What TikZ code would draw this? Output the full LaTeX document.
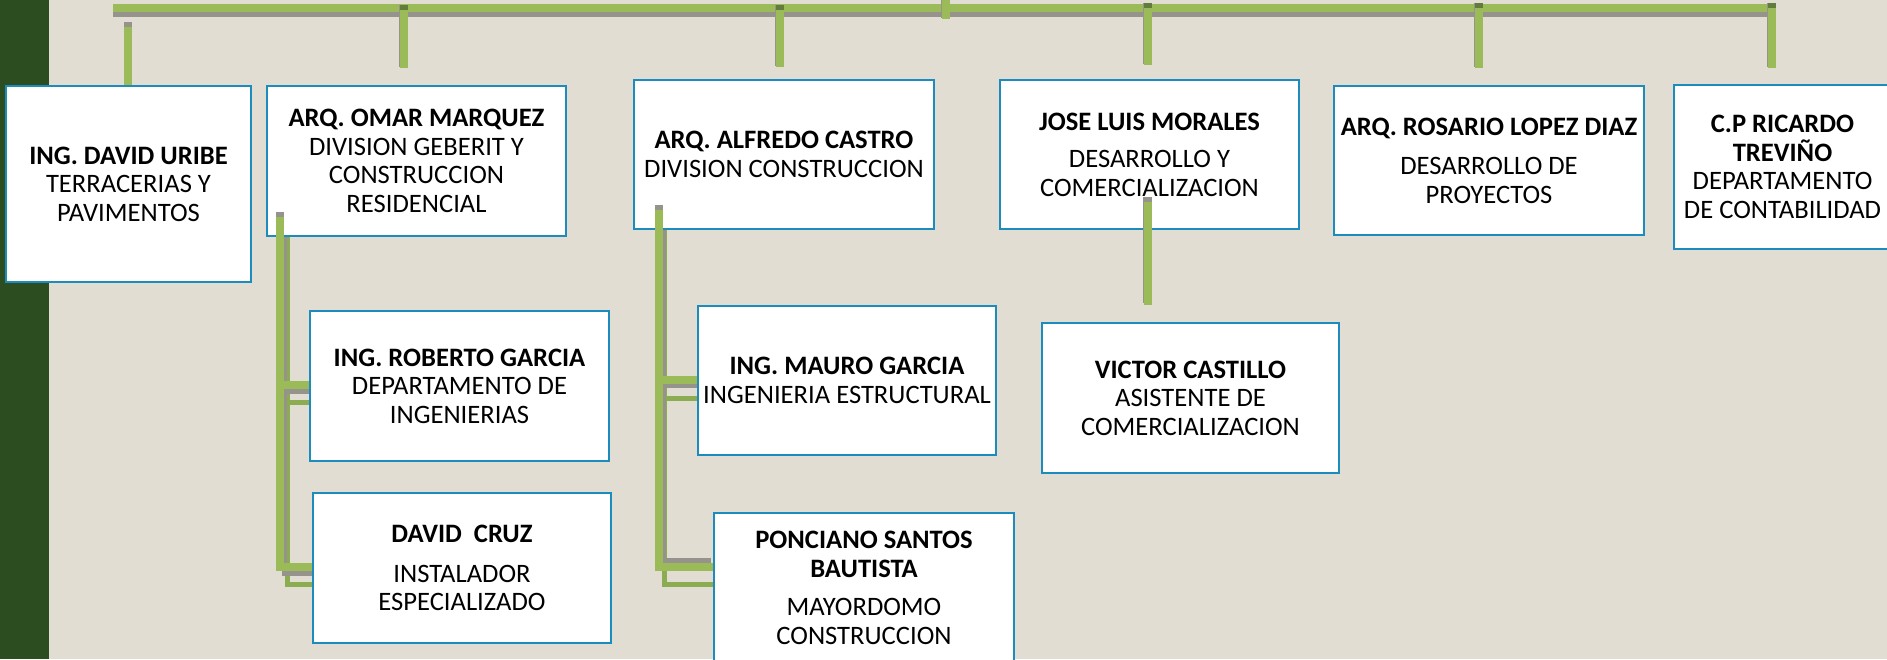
\documentclass[tikz,border=0pt]{standalone}
\usepackage{fontspec}
\setmainfont{Carlito}
\definecolor{bgbeige}{RGB}{226,221,210}
\definecolor{stripgreen}{RGB}{44,77,31}
\definecolor{linegreen}{RGB}{155,187,89}
\definecolor{ghostgreen}{RGB}{140,172,82}
\definecolor{shadowgray}{RGB}{150,146,140}
\definecolor{capdark}{RGB}{98,124,62}
\definecolor{boxblue}{RGB}{28,140,190}
\tikzset{
  box/.style={draw=boxblue, line width=2pt, fill=white, anchor=north west,
    align=center, inner sep=2pt, font=\fontsize{26.6}{28.5}\selectfont},
  bar/.style={draw=linegreen, line width=8pt},
  barshadow/.style={draw=shadowgray, line width=5pt},
  ghost/.style={draw=ghostgreen, line width=5pt},
}

\begin{document}
\begin{tikzpicture}[x=1pt,y=-1pt]
    \fill[bgbeige] (0,0) rectangle (1887,659);
    \useasboundingbox (0,0) rectangle (1887,659);
    \fill[stripgreen] (0,0) rectangle (49,659);
    % top line
    \coordinate (busW) at (113,8);
    \coordinate (busE) at (1772,8);
    \draw[barshadow] (113,14.5) -- (1772,14.5);
    \path[bar] (busW) edge (busE);
    \foreach \x/\ya/\yb in {404/5/68, 780/5/67, 1148/3/65, 1479/3/68, 1772/3/68} {
      \draw[shadowgray, line width=8pt] (\x-1.5,\ya) -- (\x-1.5,\yb-1);
      \draw[bar] (\x,\ya+5) -- (\x,\yb);
      \draw[capdark, line width=8pt] (\x,\ya) -- (\x,\ya+5);
    }
    \draw[shadowgray, line width=8pt] (944.5,0) -- (944.5,18);
    \draw[bar] (946,0) -- (946,19);
    \draw[shadowgray, line width=8pt] (128,22) -- (128,27);
    \draw[bar] (128,27) -- (128,85);
    % branches below
    \coordinate (omar-trunk) at (280,217);
    \coordinate (alf-trunk) at (659,210);
    \coordinate (jose-drop) at (1148,202);
    \coordinate (victor-in) at (1148,305);
    \coordinate (roberto-in) at (309,385);
    \coordinate (cruz-in) at (312,567);
    \coordinate (mauro-in) at (697,380);
    \coordinate (ponciano-in) at (713,566.5);
    \draw[ghost, transform canvas={shift={(7pt,-17pt)}}]
      (omar-trunk) |- (roberto-in) (omar-trunk) |- (cruz-in);
    \draw[ghost, transform canvas={shift={(5.5pt,-18pt)}}]
      (alf-trunk) |- (mauro-in) (alf-trunk) |- (ponciano-in);
    \draw[barshadow, transform canvas={shift={(4pt,-6.5pt)}}]
      (omar-trunk) |- (roberto-in) (omar-trunk) |- (cruz-in);
    \draw[barshadow, transform canvas={shift={(4pt,-5.5pt)}}]
      (alf-trunk) |- (mauro-in);
    \draw[barshadow] (659,560.5) -- (711,560.5);
    \draw[barshadow] (663,560) -- (663,380);
    \node[box, minimum width=245, minimum height=196] (uribe) at (5,85)
      {\textbf{ING. DAVID URIBE}\\TERRACERIAS Y\\PAVIMENTOS};
    \node[box, minimum width=299, minimum height=150] (omar) at (266,85)
      {\textbf{ARQ. OMAR MARQUEZ}\\DIVISION GEBERIT Y\\CONSTRUCCION\\RESIDENCIAL};
    \node[box, minimum width=300, minimum height=149] (alfredo) at (633,79)
      {\textbf{ARQ. ALFREDO CASTRO}\\DIVISION CONSTRUCCION};
    \node[box, minimum width=299, minimum height=149] (jose) at (999,79)
      {\textbf{JOSE LUIS MORALES}\\[9pt]DESARROLLO Y\\COMERCIALIZACION};
    \node[box, minimum width=310, minimum height=149] (rosario) at (1333,85)
      {\textbf{ARQ. ROSARIO LOPEZ DIAZ}\\[11pt]DESARROLLO DE\\PROYECTOS};
    \node[box, minimum width=217, minimum height=164] (ricardo) at (1673,84)
      {\textbf{C.P RICARDO}\\\textbf{TREVIÑO}\\DEPARTAMENTO\\DE CONTABILIDAD};
    \node[box, minimum width=299, minimum height=150] (roberto) at (309,310)
      {\textbf{ING. ROBERTO GARCIA}\\DEPARTAMENTO DE\\INGENIERIAS};
    \node[box, minimum width=298, minimum height=150] (cruz) at (312,492)
      {\textbf{DAVID\ \ CRUZ}\\[11pt]INSTALADOR\\ESPECIALIZADO};
    \node[box, minimum width=298, minimum height=149] (mauro) at (697,305)
      {\textbf{ING. MAURO GARCIA}\\INGENIERIA ESTRUCTURAL};
    \node[box, minimum width=300, minimum height=150] (ponciano) at (713,512)
      {\textbf{PONCIANO SANTOS}\\\textbf{BAUTISTA}\\[10pt]MAYORDOMO\\CONSTRUCCION};
    \node[box, minimum width=297, minimum height=150] (victor) at (1041,322)
      {\textbf{VICTOR CASTILLO}\\ASISTENTE DE\\COMERCIALIZACION};
    % connectors
    \draw[bar] (omar-trunk) |- (roberto-in) (omar-trunk) |- (cruz-in);
    \draw[shadowgray, line width=8pt] (280,212) -- (280,217);
    \draw[bar] (alf-trunk) |- (mauro-in) (alf-trunk) |- (ponciano-in);
    \draw[shadowgray, line width=8pt] (659,205) -- (659,210);
    \draw[shadowgray, line width=9pt] (1147.5,197) -- (1147.5,303);
    \draw[bar] (jose-drop) -- (victor-in);
\end{tikzpicture}
\end{document}
